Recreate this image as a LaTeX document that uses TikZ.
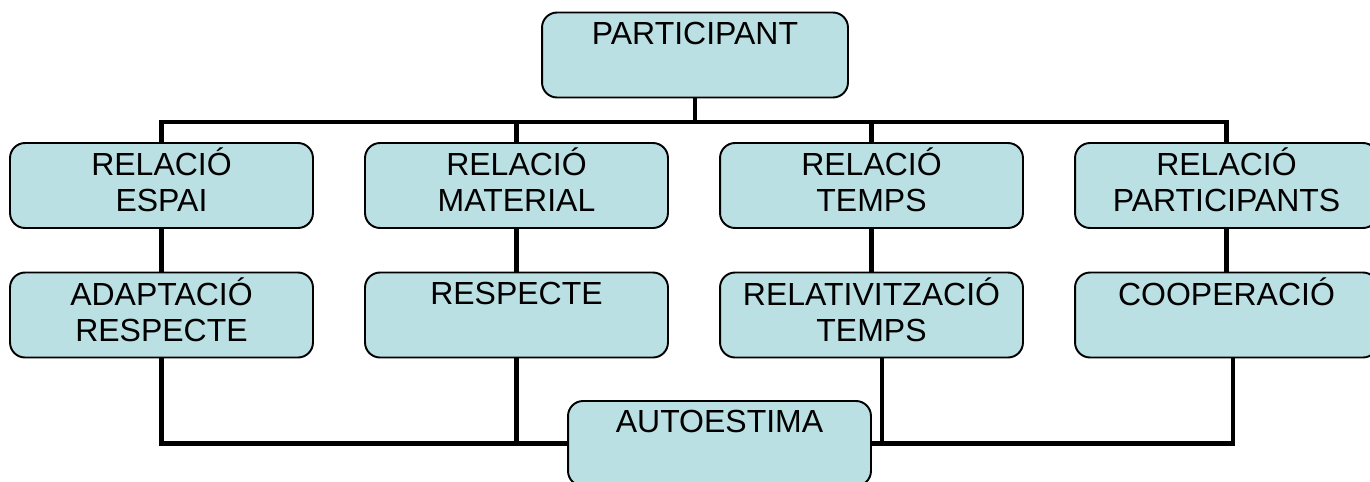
\documentclass[tikz,border=0pt]{standalone}
\usepackage{fontspec}
\setmainfont{Liberation Sans}
\usepackage{tikz}
\definecolor{boxblue}{RGB}{186,224,227}

\begin{document}
\begin{tikzpicture}[x=0.02cm, y=-0.02cm,
	box/.style={draw, rectangle, rounded corners=0.3cm, line width=1.1pt, fill=boxblue,
		minimum width=6.06cm, minimum height=1.7cm, inner sep=0pt, align=center,
		font=\fontsize{18.2}{20.5}\selectfont},
	link/.style={line width=2.8pt}]
	\useasboundingbox (0,0) rectangle (1370,481);
	\node[box, minimum width=6.12cm] (part) at (695,55) {\strut PARTICIPANT\\ \strut};
	\node[box] (rel1) at (161.5,185.5) {\strut RELACIÓ\\ESPAI\strut};
	\node[box] (rel2) at (516.5,185.5) {\strut RELACIÓ\\MATERIAL\strut};
	\node[box] (rel3) at (871.5,185.5) {\strut RELACIÓ\\TEMPS\strut};
	\node[box] (rel4) at (1226.5,185.5) {\strut RELACIÓ\\PARTICIPANTS\strut};
	\node[box] (res1) at (161.5,315) {\strut ADAPTACIÓ\\RESPECTE\strut};
	\node[box] (res2) at (516.5,315) {\strut RESPECTE\\ \strut};
	\node[box] (res3) at (871.5,315) {\strut RELATIVITZACIÓ\\TEMPS\strut};
	\node[box] (res4) at (1226.5,315) {\strut COOPERACIÓ\\ \strut};
	\node[box] (auto) at (719.5,443.5) {\strut AUTOESTIMA\\ \strut};
	\coordinate (bus) at (695,122);
	% top tree
	\draw[link] (part.south) -- (part.south |- bus);
	\draw[link] ([xshift=-1.4pt]rel1.north |- bus) -- ([xshift=1.4pt]rel4.north |- bus);
	\foreach \i in {1,...,4} {
		\draw[link] (rel\i.north |- bus) -- (rel\i.north);
		\draw[link] (rel\i.south) -- (res\i.north);
	}
	% bottom joins
	\draw[link] (res1.south) |- (auto.west);
	\draw[link] (res2.south) -- (res2.south |- auto.west);
	\draw[link] ([xshift=0.21cm]res3.south) -- ([xshift=0.21cm]res3.south |- auto.east);
	\draw[link] ([xshift=0.13cm]res4.south) |- (auto.east);
\end{tikzpicture}
\end{document}
